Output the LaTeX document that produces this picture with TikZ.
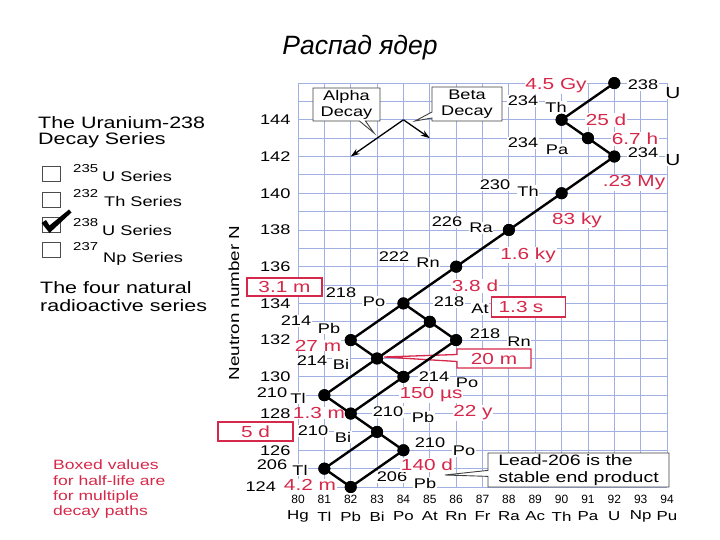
\documentclass[tikz,border=0pt]{standalone}
\usepackage{fontspec}
\setmainfont{Liberation Sans}
\newfontfamily\wf{Liberation Sans}[FakeStretch=1.3]
\usetikzlibrary{arrows.meta,shapes.callouts}
\definecolor{cRed}{RGB}{214,40,74}
\definecolor{cGrid}{RGB}{160,176,228}
\newcommand{\myfs}[2]{\fontsize{#1}{#2}\selectfont}
\begin{document}
\begin{tikzpicture}[x=1pt,y=-1pt,
  iso/.style={font=\wf\myfs{14}{16}, fill=white, inner sep=0.8pt},
  bigsym/.style={font=\wf\myfs{16}{18}, fill=white, inner sep=0.8pt},
  hl/.style={font=\wf\myfs{16}{18}, text=cRed, fill=white, inner sep=0.8pt},
  dot/.style={circle, fill=black, inner sep=0pt, minimum size=12pt},
  decay/.style={line width=2.4pt},
  gridline/.style={cGrid, line width=0.9pt},
  redbox/.style={draw=cRed, line width=1.3pt, fill=white, text=cRed, font=\wf\myfs{16}{18}, inner sep=0pt, minimum height=19pt},
  ticklab/.style={font=\wf\myfs{14}{16}, fill=white, inner sep=0.8pt, anchor=east},
  axnum/.style={font=\myfs{12}{14}, inner sep=0pt},
  axsym/.style={font=\wf\myfs{13}{15}, inner sep=0pt},
  callbox/.style={rectangle callout, draw=black!75, line width=0.9pt, fill=white, font=\wf\myfs{14}{16}, align=center, inner sep=0pt, callout pointer width=6pt},
  cbox/.style={draw=black!70, line width=1pt, minimum width=18pt, minimum height=15pt, inner sep=0pt},
  lgtxt/.style={anchor=base west, font=\wf\myfs{16.5}{19}, inner sep=0pt},
  sertxt/.style={anchor=base west, font=\wf\myfs{14}{16}, inner sep=0pt},
  suptxt/.style={anchor=base west, font=\wf\myfs{11.5}{13}, inner sep=0pt},
  notetxt/.style={anchor=base west, font=\wf\myfs{13.5}{15}, text=cRed, inner sep=0pt},
  exarrow/.style={line width=1.3pt, -{Stealth[length=9pt,width=6pt]}}
]
\useasboundingbox (0,0) rectangle (720,540);

% title
\node[font=\myfs{26.5}{30}\itshape] (title) at (360,48) {Распад ядер};

% legend
\node[lgtxt] (lg1) at (38,129) {The Uranium-238};
\node[lgtxt] (lg2) at (38,145) {Decay Series};
\node[cbox] (cb1) at (51,174.5) {};
\node[cbox] (cb2) at (51,200) {};
\node[cbox] (cb3) at (51,225) {};
\node[cbox] (cb4) at (51,249.5) {};
\fill (41.5,223) -- (46,220) -- (49.5,225.5) -- (69,209.5) -- (71.5,212.5) -- (49.5,233) -- cycle;
\node[suptxt] (s1a) at (73,173) {235};
\node[sertxt] (s1b) at (102,182) {U Series};
\node[suptxt] (s2a) at (73,198) {232};
\node[sertxt] (s2b) at (104,207) {Th Series};
\node[suptxt] (s3a) at (73,226) {238};
\node[sertxt] (s3b) at (102,236) {U Series};
\node[suptxt] (s4a) at (73,251) {237};
\node[sertxt] (s4b) at (103,262) {Np Series};
\node[lgtxt] (lg3) at (40,293) {The four natural};
\node[lgtxt] (lg4) at (40,311) {radioactive series};

% note
\node[notetxt] (n1) at (53,469) {Boxed values};
\node[notetxt] (n2) at (53,485) {for half-life are};
\node[notetxt] (n3) at (53,500) {for multiple};
\node[notetxt] (n4) at (53,515) {decay paths};

% axis title
\node[font=\wf\myfs{14.5}{16}, rotate=90] (ytitle) at (234,303) {Neutron number N};

% grid, ticks, dots
\begin{scope}[shift={(298pt,-487pt)}, x={(26.36pt,0pt)}, y={(0pt,18.36pt)}]
  \foreach \i in {0,...,14} \draw[gridline] (\i,0) -- (\i,22);
  \foreach \j in {0,...,22} \draw[gridline] (0,\j) -- (14,\j);
  \foreach \n [evaluate=\n as \lab using int(124+\n)] in {2,4,...,20}
    \node[ticklab] (t\lab) at (-0.25,\n) {\lab};
  \node[ticklab] (t124) at (-0.8,0) {124};
  \foreach \z/\s in {0/Hg,1/Tl,2/Pb,3/Bi,4/Po,5/At,6/Rn,7/Fr,8/Ra,9/Ac,10/Th,11/Pa,12/U,13/Np,14/Pu}{
    \pgfmathtruncatemacro\zz{80+\z}
    \node[axnum] (zn\z) at (\z,-0.7) {\zz};
    \node[axsym] (zs\z) at (\z,-1.6) {\s};
  }
  \coordinate (exO) at (4,20);
  \coordinate (exA) at (2,18);
  \coordinate (exB) at (5,19);
  \node[dot] (U238) at (12,22) {};
  \node[dot] (Th234) at (10,20) {};
  \node[dot] (Pa234) at (11,19) {};
  \node[dot] (U234) at (12,18) {};
  \node[dot] (Th230) at (10,16) {};
  \node[dot] (Ra226) at (8,14) {};
  \node[dot] (Rn222) at (6,12) {};
  \node[dot] (Po218) at (4,10) {};
  \node[dot] (At218) at (5,9) {};
  \node[dot] (Pb214) at (2,8) {};
  \node[dot] (Rn218) at (6,8) {};
  \node[dot] (Bi214) at (3,7) {};
  \node[dot] (Po214) at (4,6) {};
  \node[dot] (Tl210) at (1,5) {};
  \node[dot] (Pb210) at (2,4) {};
  \node[dot] (Bi210) at (3,3) {};
  \node[dot] (Po210) at (4,2) {};
  \node[dot] (Tl206) at (1,1) {};
  \node[dot] (Pb206) at (2,0) {};
\end{scope}

% isotope labels
\node[iso] (m238u) at (643,85) {238};
\node[bigsym] (eU238) at (673,93) {U};
\node[iso] (m234th) at (523,101) {234};
\node[iso] (eTh234) at (556,107) {Th};
\node[iso] (m234pa) at (523,143) {234};
\node[iso] (ePa234) at (557,150) {Pa};
\node[iso] (m234u) at (643,153) {234};
\node[bigsym] (eU234) at (673,160) {U};
\node[iso] (m230) at (495,185) {230};
\node[iso] (eTh230) at (528,191) {Th};
\node[iso] (m226) at (447,222) {226};
\node[iso] (eRa) at (481,228) {Ra};
\node[iso] (m222) at (394,257) {222};
\node[iso] (eRn222) at (428,263) {Rn};
\node[iso] (m218po) at (341,293) {218};
\node[iso] (ePo218) at (374,302) {Po};
\node[iso] (m218at) at (449,302) {218};
\node[iso] (eAt) at (480,309) {At};
\node[iso] (m214pb) at (296,321) {214};
\node[iso] (ePb214) at (329,328) {Pb};
\node[iso] (m218rn) at (485,334) {218};
\node[iso] (eRn218) at (519,342) {Rn};
\node[iso, inner sep=0pt] (m214bi) at (312,360.5) {214};
\node[iso] (eBi214) at (341,364) {Bi};
\node[iso] (m214po) at (434,377) {214};
\node[iso] (ePo214) at (467,383) {Po};
\node[iso] (m210tl) at (272,393) {210};
\node[iso] (eTl210) at (298,398) {Tl};
\node[iso] (m210pb) at (388,412) {210};
\node[iso] (ePb210) at (423,417) {Pb};
\node[iso] (m210bi) at (313,431) {210};
\node[iso] (eBi210) at (343,437) {Bi};
\node[iso] (m210po) at (430,443) {210};
\node[iso] (ePo210) at (464,451) {Po};
\node[iso] (m206tl) at (272,465) {206};
\node[iso] (eTl206) at (300,470) {Tl};
\node[iso] (m206pb) at (392,477) {206};
\node[iso] (ePb206) at (425,483) {Pb};

% half-lives
\node[hl] (h1) at (556,86) {4.5 Gy};
\node[hl] (h2) at (606,120) {25 d};
\node[hl] (h3) at (635,139) {6.7 h};
\node[hl] (h4) at (634,183) {.23 My};
\node[hl] (h5) at (577,220) {83 ky};
\node[hl] (h6) at (528,255) {1.6 ky};
\node[hl] (h7) at (475,286) {3.8 d};
\node[hl, inner sep=0pt] (h8) at (318,345.5) {27 m};
\node[hl] (h9) at (431,395) {150 µs};
\node[hl] (h10) at (319,413) {1.3 m};
\node[hl] (h11) at (473,413) {22 y};
\node[hl] (h12) at (427,465) {140 d};
\node[hl] (h13) at (310,485) {4.2 m};

% boxed half-lives
\node[redbox, minimum width=75pt, minimum height=18pt] (b31) at (284.5,287) {3.1 m};
\node[redbox, text width=60pt, align=left, inner xsep=7pt, minimum height=20pt, anchor=west] (b13) at (491,307) {1.3 s};
\node[redbox, minimum width=75pt] (b5) at (255.5,431.5) {5 d};
\coordinate (p20) at (384,357);
\node[redbox, rectangle callout, callout absolute pointer={(p20)}, callout pointer width=7pt, minimum width=74pt] (b20) at (494,358.5) {20 m};

% callouts
\node[callbox, minimum width=67pt, minimum height=33pt, callout absolute pointer={(374,133)}] (alpha) at (346.5,104.5) {Alpha\\Decay};
\node[callbox, minimum width=70pt, minimum height=34pt, callout absolute pointer={(415,121)}] (beta) at (467,104) {Beta\\Decay};
\node[callbox, font=\wf\myfs{15}{17}, align=left, minimum width=181pt, minimum height=34pt, callout absolute pointer={(445,475)}] (lead) at (578.5,470) {\mbox{Lead-206 is the}\hspace*{22pt}\\\mbox{stable end product}};

% example arrows
\draw[exarrow] (exO) -- (exA);
\draw[exarrow] (exO) -- (exB);

% decay chain
\foreach \a/\b in {U238/Th234,Th234/Pa234,Pa234/U234,U234/Th230,Th230/Ra226,Ra226/Rn222,Rn222/Po218,Po218/Pb214,Po218/At218,Pb214/Bi214,At218/Bi214,At218/Rn218,Bi214/Tl210,Bi214/Po214,Rn218/Po214,Po214/Pb210,Tl210/Pb210,Pb210/Bi210,Bi210/Tl206,Bi210/Po210,Po210/Pb206,Tl206/Pb206}
  \draw[decay] (\a.center) -- (\b.center);
\foreach \d in {U238,Th234,Pa234,U234,Th230,Ra226,Rn222,Po218,At218,Pb214,Rn218,Bi214,Po214,Tl210,Pb210,Bi210,Po210,Tl206,Pb206}
  \fill (\d.center) circle (6pt);
\end{tikzpicture}
\end{document}
